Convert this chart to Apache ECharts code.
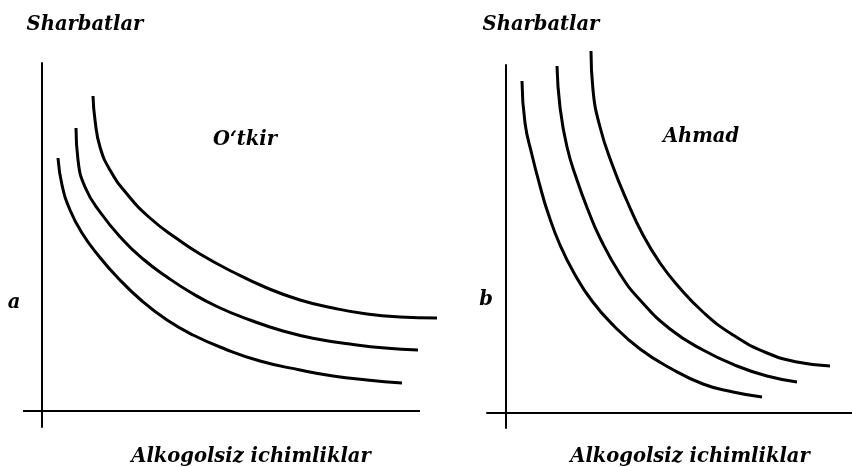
<!DOCTYPE html>
<html>
<head>
<meta charset="utf-8">
<script src="https://cdn.jsdelivr.net/npm/echarts@6/dist/echarts.min.js"></script>
<style>
	html, body { margin: 0; padding: 0; background: #fff; }
	#chart { width: 852px; height: 467px; }
</style>
</head>
<body>
<div id="chart"></div>
<script>
// O'tkir - befarq egri chiziqlar (chapdagi grafik)
var otkirCurve1 = [[16,253],[20,226],[28,201],[40,178],[56,156],[76,133],[100,110],[125,91],[151,76],[183,62],[218,50],[258,41],[291,35],[325,31],[360,28]];
var otkirCurve2 = [[34,283],[36,251],[43,224],[58,199],[81,171],[101,152],[125,134],[148,119],[176,104],[208,91],[241,80],[275,72],[308,67],[343,63],[376,61]];
var otkirCurve3 = [[51,315],[53,291],[58,264],[68,241],[85,217],[108,193],[134,173],[158,157],[191,139],[225,123],[258,111],[291,103],[325,97],[358,94],[395,93]];

// Ahmad - befarq egri chiziqlar (o'ngdagi grafik)
var ahmadCurve1 = [[16,332],[19,290],[26,258],[34,227],[42,200],[54,168],[68,140],[86,112],[108,87],[134,64],[164,45],[197,29],[227,21],[256,16]];
var ahmadCurve2 = [[51,347],[54,306],[61,266],[71,233],[82,203],[94,175],[114,139],[134,113],[164,84],[197,63],[231,47],[261,37],[291,31]];
var ahmadCurve3 = [[85,362],[87,323],[94,286],[106,249],[121,212],[137,178],[154,150],[172,127],[197,101],[227,78],[261,60],[291,51],[324,47]];

// chapdagi gorizontal o'q chizig'i (o'q oxirlari)
var otkirXAxisLine = [[-19,0],[378,0]];

var sarlavhaY = "Sharbatlar";
var sarlavhaX = "Alkogolsiz ichimliklar";

var myChart = echarts.init(document.getElementById('chart'));

var shrift = 'bold italic 19.5px "DejaVu Serif", "Liberation Serif", serif';

function egri(data, idx) {
	return {
		type: 'line',
		data: data,
		xAxisIndex: idx,
		yAxisIndex: idx,
		smooth: 0.5,
		showSymbol: false,
		clip: false,
		lineStyle: { color: '#000', width: 3 }
	};
}

function oq(min, max, chiziq) {
	return {
		type: 'value',
		min: min,
		max: max,
		axisLine: { show: chiziq, onZero: true, lineStyle: { color: '#000', width: 2 } },
		axisTick: { show: false },
		axisLabel: { show: false },
		splitLine: { show: false }
	};
}

function matn(x, y, text) {
	return {
		type: 'text',
		x: x,
		y: y,
		style: { text: text, font: shrift, fill: '#000', align: 'center', verticalAlign: 'middle' }
	};
}

myChart.setOption({
	animation: false,
	backgroundColor: '#fff',
	grid: [
		{ left: 23, top: 63, width: 419, height: 364 },
		{ left: 487, top: 65, width: 365, height: 363 }
	],
	xAxis: [
		Object.assign(oq(-19, 400, false), { gridIndex: 0 }),
		Object.assign(oq(-19, 346, true), { gridIndex: 1 })
	],
	yAxis: [
		Object.assign(oq(-16, 348, true), { gridIndex: 0 }),
		Object.assign(oq(-15, 348, true), { gridIndex: 1 })
	],
	series: [
		{
			type: 'line',
			data: otkirXAxisLine,
			xAxisIndex: 0,
			yAxisIndex: 0,
			showSymbol: false,
			silent: true,
			lineStyle: { color: '#000', width: 2 }
		},
		egri(otkirCurve1, 0),
		egri(otkirCurve2, 0),
		egri(otkirCurve3, 0),
		egri(ahmadCurve1, 1),
		egri(ahmadCurve2, 1),
		egri(ahmadCurve3, 1)
	],
	graphic: [
		matn(85, 25, sarlavhaY),
		matn(541, 25, sarlavhaY),
		matn(245, 140, "O\u2018tkir"),
		matn(701, 137, "Ahmad"),
		matn(14, 303, "a"),
		matn(486, 300, "b"),
		matn(251, 457, sarlavhaX),
		matn(690, 457, sarlavhaX)
	]
});
</script>
</body>
</html>
